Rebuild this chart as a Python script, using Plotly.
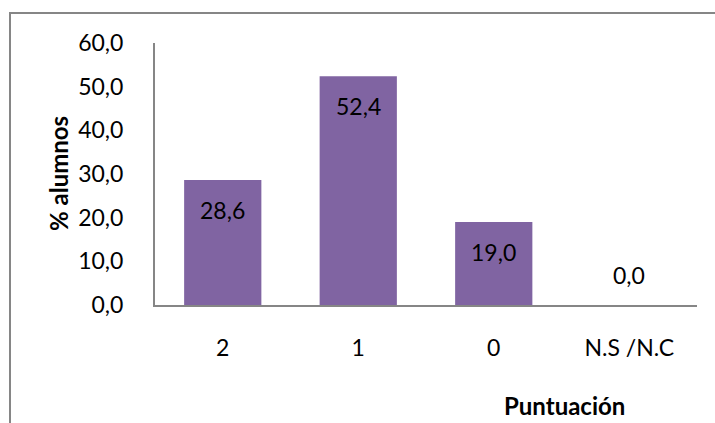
import plotly.graph_objects as go

categories = ["2", "1", "0", "N.S /N.C"]
values = [28.6, 52.4, 19.0, 0.0]
y_ticks = [0, 10, 20, 30, 40, 50, 60]
y_tick_labels = ["0,0", "10,0", "20,0", "30,0", "40,0", "50,0", "60,0"]
labels = [f"{v:.1f}".replace(".", ",") for v in values]

FONT = "Lato"
BAR = "#8064A2"
AXIS = "#868686"
FS = 23
TFS = 24

fig = go.Figure()
fig.add_trace(go.Bar(
    x=categories, y=values,
    marker=dict(color=BAR, line=dict(width=0)),
    hoverinfo="skip",
))

for i, (v, t) in enumerate(zip(values, labels)):
    fig.add_annotation(
        x=i, y=v, text=t, showarrow=False,
        xanchor="center", yanchor="middle",
        yshift=(-30 if v > 0 else 30),
        font=dict(family=FONT, size=FS, color="black"),
    )

W, H = 715, 423
L, R, T, B = 155, 18, 43, 118
pw, ph = W - L - R, H - T - B

# axis titles
fig.add_annotation(
    xref="paper", yref="paper",
    x=(58 - L) / pw, y=0.5, text="<b>% alumnos</b>", textangle=-90,
    showarrow=False, xanchor="center", yanchor="middle",
    font=dict(family=FONT, size=TFS, color="black"),
)
fig.add_annotation(
    xref="paper", yref="paper",
    x=(564.5 - L) / pw, y=(T + ph - 405) / ph, text="<b>Puntuación</b>",
    showarrow=False, xanchor="center", yanchor="middle",
    font=dict(family=FONT, size=TFS, color="black"),
)

# outer chart border (extends beyond right/bottom)
fig.add_shape(
    type="rect", xref="paper", yref="paper",
    x0=(10 - L) / pw, x1=(W + 20 - L) / pw,
    y0=(T + ph - (H + 20)) / ph, y1=(T + ph - 13) / ph,
    line=dict(color=AXIS, width=2), fillcolor="rgba(0,0,0,0)", layer="below",
)

fig.update_layout(
    width=W, height=H,
    margin=dict(l=L, r=R, t=T, b=B, pad=0),
    paper_bgcolor="white", plot_bgcolor="white",
    bargap=0.43,
    showlegend=False,
    font=dict(family=FONT, size=FS, color="black"),
    xaxis=dict(
        type="category", showline=True, linecolor=AXIS, linewidth=2,
        showgrid=False, ticks="", ticklabelstandoff=21,
        tickfont=dict(family=FONT, size=FS, color="black"),
        fixedrange=True,
    ),
    yaxis=dict(
        range=[0, 60], tickvals=y_ticks, ticktext=y_tick_labels,
        showline=True, linecolor=AXIS, linewidth=2,
        showgrid=False, zeroline=False, ticks="", ticklabelstandoff=25,
        tickfont=dict(family=FONT, size=FS, color="black"),
        fixedrange=True,
    ),
)

fig.write_html("out.html")
